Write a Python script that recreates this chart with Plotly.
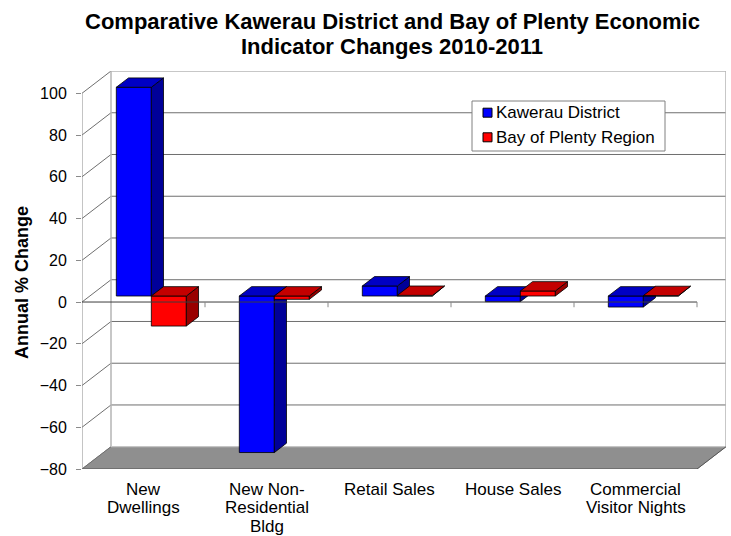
import plotly.graph_objects as go

# ---- data ---------------------------------------------------------------
category_lines = [["New", "Dwellings"],
                  ["New Non-", "Residential", "Bldg"],
                  ["Retail Sales"],
                  ["House Sales"],
                  ["Commercial", "Visitor Nights"]]
kawerau = [100.0, -75.0, 4.8, -2.7, -5.3]
bay_of_plenty = [-14.4, -1.6, 0.3, 2.4, 0.2]
series_names = ["Kawerau District", "Bay of Plenty Region"]
y_ticks = [-80, -60, -40, -20, 0, 20, 40, 60, 80, 100]
title_lines = ["Comparative Kawerau District and Bay of Plenty Economic",
               "Indicator Changes 2010-2011"]

# ---- pseudo-3D geometry (axis units) -------------------------------------
DX = 0.2358          # horizontal shift of the back wall, in category units
DV = 10.68           # vertical shift of the back wall, in value units
D_FRONT, D_BACK = 0.27, 0.69   # depth slab occupied by the columns
BAR_W = 0.2846
N = len(category_lines)
Y_MIN, Y_MAX = -80, 100
X_MIN, X_MAX = -0.5, N - 0.5

FONT = "Liberation Sans, Arial, sans-serif"

face_colors = [
    {"front": "#0000FF", "side": "#000099", "top": "#0000C4"},
    {"front": "#FF0000", "side": "#990000", "top": "#C40000"},
]


def proj(x, v, d):
    """Project a point at depth d (0 front, 1 back) onto the axes."""
    return x + d * DX, v + d * DV


fig = go.Figure()


def add_face(pts, color):
    xs = [p[0] for p in pts] + [pts[0][0]]
    ys = [p[1] for p in pts] + [pts[0][1]]
    fig.add_trace(go.Scatter(
        x=xs, y=ys, mode="lines", fill="toself", fillcolor=color,
        line=dict(color="#000000", width=0.8),
        hoverinfo="skip", showlegend=False))


for i in range(N):
    for s, values in enumerate([kawerau, bay_of_plenty]):
        v = values[i]
        x0 = i + (s - 1) * BAR_W
        x1 = x0 + BAR_W
        lo, hi = min(v, 0), max(v, 0)
        c = face_colors[s]
        add_face([proj(x0, lo, D_FRONT), proj(x1, lo, D_FRONT),
                  proj(x1, hi, D_FRONT), proj(x0, hi, D_FRONT)], c["front"])
        add_face([proj(x1, lo, D_FRONT), proj(x1, lo, D_BACK),
                  proj(x1, hi, D_BACK), proj(x1, hi, D_FRONT)], c["side"])
        add_face([proj(x0, hi, D_FRONT), proj(x1, hi, D_FRONT),
                  proj(x1, hi, D_BACK), proj(x0, hi, D_BACK)], c["top"])

# ---- walls, floor and grid -----------------------------------------------
shapes = []
GRID = "#6f6f6f"
WALL = "#b4b4b4"


def line(x0, y0, x1, y1, color, width=1, layer="below"):
    shapes.append(dict(type="line", xref="x", yref="y", x0=x0, y0=y0,
                       x1=x1, y1=y1, layer=layer,
                       line=dict(color=color, width=width)))


# floor
fx = [X_MIN, X_MAX, X_MAX + DX, X_MIN + DX]
fy = [Y_MIN, Y_MIN, Y_MIN + DV, Y_MIN + DV]
shapes.append(dict(
    type="path", xref="x", yref="y", layer="below",
    path="M {} {} L {} {} L {} {} L {} {} Z".format(
        fx[0], fy[0], fx[1], fy[1], fx[2], fy[2], fx[3], fy[3]),
    fillcolor="#8f8f8f", line=dict(color="#8f8f8f", width=1)))

# back-wall gridlines and the diagonals joining them to the front axis
for t in y_ticks:
    if Y_MIN < t < Y_MAX:
        line(X_MIN + DX, t + DV, X_MAX + DX, t + DV, GRID)
    line(X_MIN, t, X_MIN + DX, t + DV, GRID)

# back wall outline
line(X_MIN + DX, Y_MAX + DV, X_MAX + DX, Y_MAX + DV, WALL, 1.5)
line(X_MIN + DX, Y_MIN + DV, X_MIN + DX, Y_MAX + DV, WALL, 1.5)
line(X_MAX + DX, Y_MIN + DV, X_MAX + DX, Y_MAX + DV, WALL, 1.5)
line(X_MIN + DX, Y_MIN + DV, X_MAX + DX, Y_MIN + DV, "#d0d0d0", 1)
# floor front edge
line(X_MIN, Y_MIN, X_MAX, Y_MIN, "#555555", 1.2)
line(X_MAX, Y_MIN, X_MAX + DX, Y_MIN + DV, "#555555", 1)
# front value axis
line(X_MIN, Y_MIN, X_MIN, Y_MAX, "#8a8a8a", 1)

# category axis on the front plane at zero, with boundary ticks
line(X_MIN, 0, X_MAX, 0, "#3c3c3c", 1, layer="above")
for k in range(1, N + 1):
    xb = X_MIN + k
    line(xb, 0, xb, -2.5, "#8a8a8a", 1, layer="above")

# ---- legend box, titles, category labels ---------------------------------
L, R, T, B = 82, 5, 71, 67
PW, PH = 731 - L - R, 536 - T - B


def px(xp):
    return (xp - L) / PW


def py(yp):
    return (536 - B - yp) / PH


shapes.append(dict(type="rect", xref="paper", yref="paper",
                   x0=px(472), x1=px(665), y0=py(151), y1=py(101),
                   fillcolor="white", line=dict(color="#808080", width=1),
                   layer="above"))
legend_y = [112.7, 137.3]
annotations = []
for s, name in enumerate(series_names):
    yc = legend_y[s]
    shapes.append(dict(type="rect", xref="paper", yref="paper",
                       x0=px(483), x1=px(492), y0=py(yc + 4.5), y1=py(yc - 4.5),
                       fillcolor=face_colors[s]["front"],
                       line=dict(color="#000000", width=1), layer="above"))
    annotations.append(dict(xref="paper", yref="paper", x=px(494), y=py(yc),
                            xanchor="left", yanchor="middle", showarrow=False,
                            text=name, font=dict(family=FONT, size=17,
                                                 color="#000000")))

# category labels under the front plane, one row per text line
for i, rows in enumerate(category_lines):
    for r, txt in enumerate(rows):
        annotations.append(dict(xref="x", yref="paper", x=i,
                                y=py(489 + 18.5 * r), xanchor="center",
                                yanchor="middle", showarrow=False, text=txt,
                                font=dict(family=FONT, size=17,
                                          color="#000000")))

# value axis title
annotations.append(dict(xref="paper", yref="paper", x=px(22), y=py(283),
                        xanchor="center", yanchor="middle", showarrow=False,
                        textangle=-90, text="<b>Annual % Change</b>",
                        font=dict(family=FONT, size=18, color="#000000")))

# chart title
for r, txt in enumerate(title_lines):
    annotations.append(dict(xref="paper", yref="paper", x=px(392),
                            y=py(22 + 25 * r), xanchor="center",
                            yanchor="middle", showarrow=False,
                            text="<b>" + txt + "</b>",
                            font=dict(family=FONT, size=22, color="#000000")))

fig.update_layout(
    width=731, height=536,
    margin=dict(l=L, r=R, t=T, b=B, pad=0, autoexpand=False),
    paper_bgcolor="white", plot_bgcolor="white",
    showlegend=False,
    xaxis=dict(range=[X_MIN, X_MAX + DX], showgrid=False, zeroline=False,
               showline=False, showticklabels=False, ticks="",
               automargin=False),
    yaxis=dict(range=[Y_MIN, Y_MAX + DV], showgrid=False, zeroline=False,
               showline=False, tickmode="array", tickvals=y_ticks,
               automargin=False,
               ticks="outside", ticklen=5, tickcolor="#8a8a8a",
               ticklabelstandoff=6,
               tickfont=dict(family=FONT, size=16, color="#000000")),
    shapes=shapes,
    annotations=annotations,
)

fig.write_html("out.html")
